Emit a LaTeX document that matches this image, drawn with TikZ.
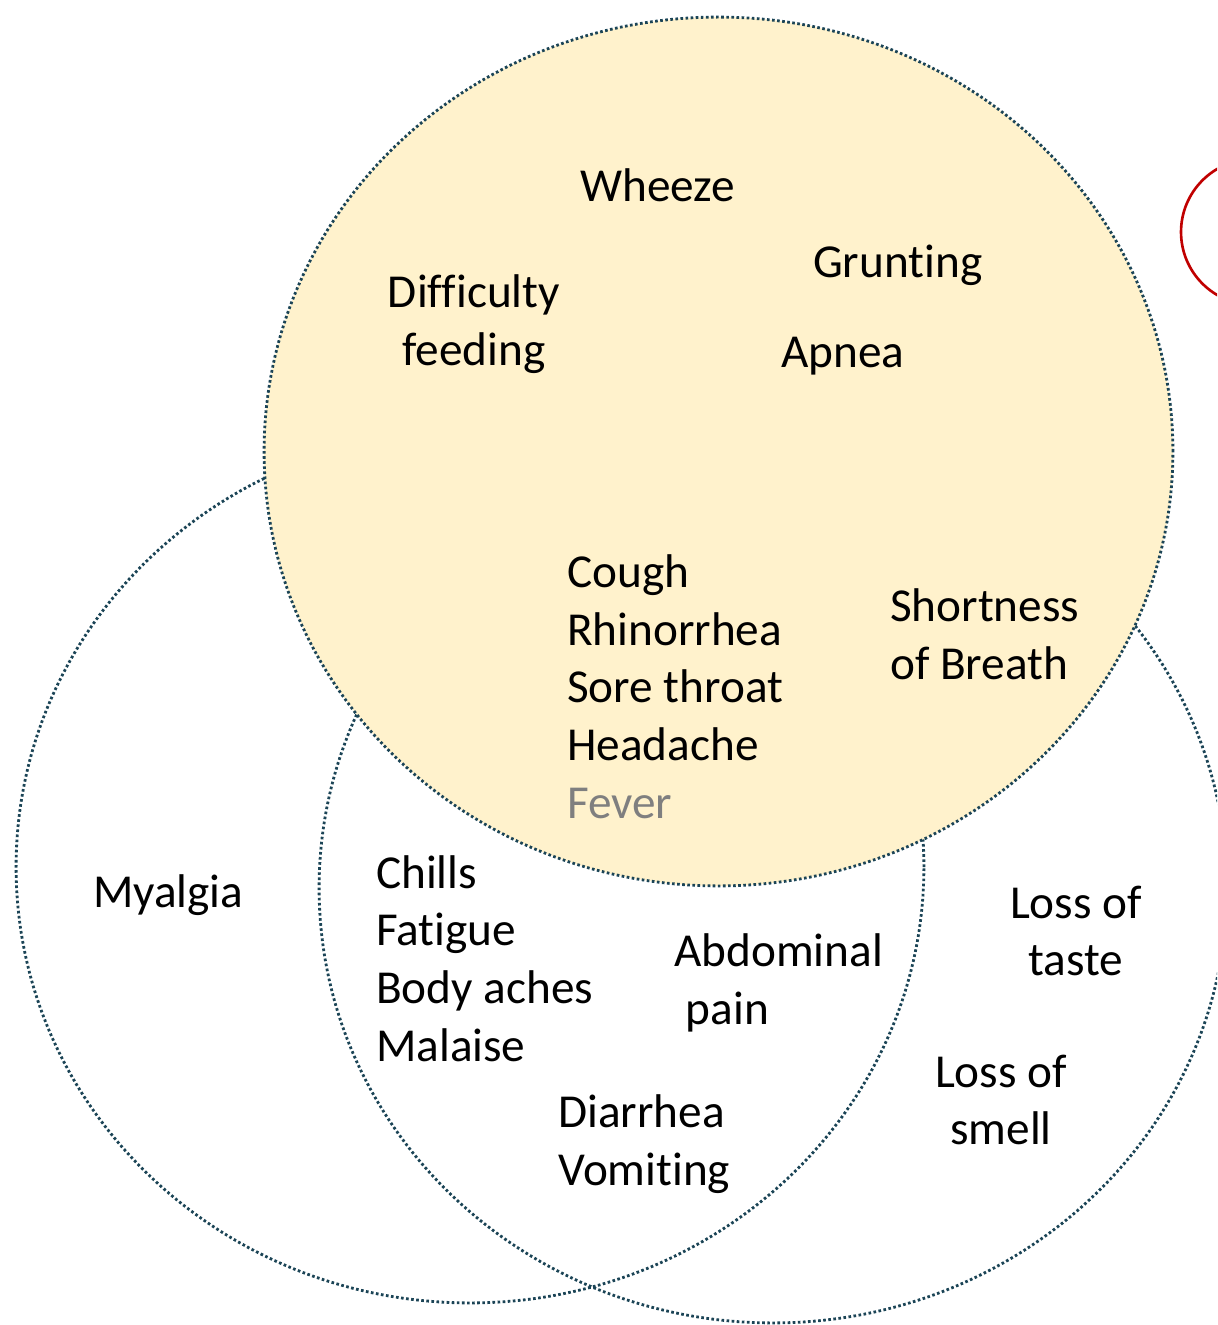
\documentclass[tikz,border=0pt]{standalone}
\usepackage{fontspec}
\setmainfont{Carlito}[Ligatures=CommonOff]
\usetikzlibrary{positioning}
\definecolor{cline}{HTML}{1B4456}
\definecolor{cfill}{HTML}{FFF2CC}
\definecolor{cred}{HTML}{C00000}
\definecolor{cgrey}{HTML}{7F7F7F}
\tikzset{
  every picture/.style={line width=1.3pt},
  set/.style={draw=cline, line width=1.6pt, dash pattern=on 1.5pt off 1.4pt},
  sym/.style={font=\fontsize{26.9}{32.8}\selectfont, inner sep=0pt, align=left},
}

\begin{document}
\begin{tikzpicture}[x=0.02cm, y=-0.02cm]
  \useasboundingbox (0,0) rectangle (1217,1325);
  \clip (0,0) rectangle (1217,1325);
  % the three sets
  \draw[set] (470,867) ellipse (9.08cm and 8.72cm);
  \draw[set] (773,888) ellipse (9.08cm and 8.7cm);
  \draw[set, fill=cfill] (718.5,451.5) ellipse (9.09cm and 8.69cm);
  \draw[cred, line width=1.5pt] (1254,232) circle (1.46cm);
  % symptoms
  \node[sym, anchor=west] (wheeze) at (579,185) {Wheeze};
  \node[sym, anchor=west] (grunting) at (812,265) {Grunting};
  \node[sym, align=center] (feeding) at (474,324) {Difficulty\\feeding};
  \node[sym, anchor=west] (apnea) at (780,356) {Apnea};
  \node[sym, anchor=west] (cough) at (566,686.5) {Cough\\Rhinorrhea\\Sore throat\\Headache\\\textcolor{cgrey}{Fever}};
  \node[sym, anchor=west] (breath) at (889,634) {Shortness\\of Breath};
  \node[sym, anchor=west] (myalgia) at (92,895) {Myalgia};
  \node[sym, anchor=west] (chills) at (375,958.5) {Chills\\Fatigue\\Body aches\\Malaise};
  \node[sym, anchor=west] (abdominal) at (673,983) {Abdominal\\\hspace*{0.25em}pain};
  \node[sym, anchor=west] (diarrhea) at (557,1144) {Diarrhea\\Vomiting};
  \node[sym, align=center] (taste) at (1076,931) {Loss of\\taste};
  \node[sym, align=center] (smell) at (1001,1100) {Loss of\\smell};
\end{tikzpicture}
\end{document}
